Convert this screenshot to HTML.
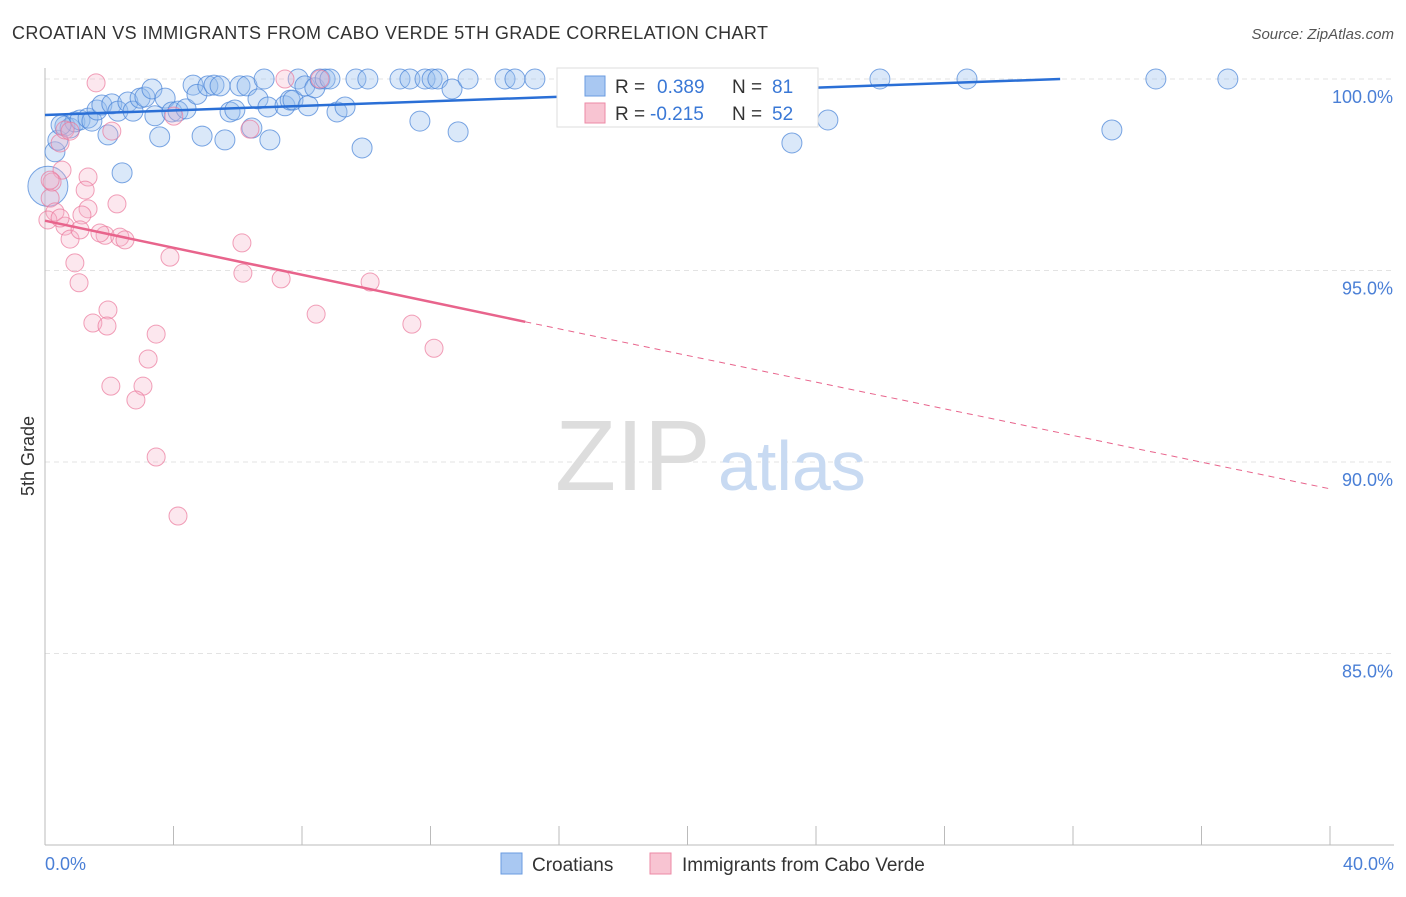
<!DOCTYPE html>
<html><head><meta charset="utf-8"><style>
body{margin:0;background:#fff;font-family:"Liberation Sans",sans-serif;}
svg text{font-family:"Liberation Sans",sans-serif;}
</style></head><body>
<svg width="1406" height="892">
<text x="12" y="39" font-size="18" fill="#333" textLength="756">CROATIAN VS IMMIGRANTS FROM CABO VERDE 5TH GRADE CORRELATION CHART</text>
<text x="1394" y="39" font-size="15" fill="#555" text-anchor="end" font-style="italic">Source: ZipAtlas.com</text>
<g id="grid"></g>
<line x1="45" y1="68" x2="45" y2="845" stroke="#bbb"/>
<line x1="45" y1="845" x2="1394" y2="845" stroke="#bbb"/>
<text x="34" y="456" font-size="18" fill="#333" transform="rotate(-90 34 456)" text-anchor="middle">5th Grade</text>
<text x="45" y="870" font-size="18" fill="#4a7fd6">0.0%</text>
<text x="1394" y="870" font-size="18" fill="#4a7fd6" text-anchor="end">40.0%</text>
<text x="555" y="490" font-size="100" fill="#ddd" font-family="Liberation Serif">ZIP</text>
<text x="718" y="490" font-size="70" fill="#c8daf2">atlas</text>
<g id="pts"></g>
<g id="lines"></g>
<g>
<rect x="557" y="68" width="261" height="59" fill="#fff" stroke="#ddd"/>
<rect x="585" y="76" width="20" height="20" fill="#a9c8f2" stroke="#6a9be0"/>
<text x="615" y="93" font-size="19" fill="#333">R =</text>
<text x="657" y="93" font-size="19" fill="#3a78d6">0.389</text>
<text x="732" y="93" font-size="19" fill="#333">N =</text>
<text x="772" y="93" font-size="19" fill="#3a78d6">81</text>
<rect x="585" y="103" width="20" height="20" fill="#f8c4d2" stroke="#ec8aa6"/>
<text x="615" y="120" font-size="19" fill="#333">R =</text>
<text x="650" y="120" font-size="19" fill="#3a78d6">-0.215</text>
<text x="732" y="120" font-size="19" fill="#333">N =</text>
<text x="772" y="120" font-size="19" fill="#3a78d6">52</text>
</g>
<g>
<rect x="501" y="853" width="21" height="21" fill="#a9c8f2" stroke="#6a9be0"/>
<text x="532" y="871" font-size="19" fill="#333">Croatians</text>
<rect x="650" y="853" width="21" height="21" fill="#f8c4d2" stroke="#ec8aa6"/>
<text x="682" y="871" font-size="19" fill="#333">Immigrants from Cabo Verde</text>
</g>
</svg>
<script>
const yTicks=[100,95,90,85];
const xTickCount=10;
const blueX=[0.31,0.4,0.62,0.78,0.93,1.09,1.34,1.46,1.62,1.77,1.96,2.08,2.27,2.4,2.58,2.74,2.96,3.11,3.33,3.42,3.57,3.74,3.95,4.14,4.39,4.61,4.73,4.89,5.07,5.26,5.45,5.6,5.76,5.91,6.07,6.29,6.44,6.63,6.82,6.94,7.0,7.47,7.63,7.72,7.88,8.09,8.19,8.4,8.56,8.72,8.87,9.09,9.34,9.68,9.87,10.05,11.05,11.36,11.67,11.83,12.05,12.23,12.67,12.86,13.17,14.32,14.63,15.25,16.65,16.96,17.21,17.96,23.25,24.37,25.99,28.7,33.21,34.58,36.82,0.09,0.5];
const blueY=[98.1,98.4,98.77,98.72,98.88,98.93,98.98,98.9,99.19,99.32,98.54,99.35,99.16,97.55,99.4,99.16,99.5,99.53,99.74,99.04,98.49,99.5,99.14,99.16,99.22,99.84,99.6,98.51,99.82,99.84,99.82,98.41,99.14,99.19,99.82,99.82,98.72,99.48,100,99.27,98.41,99.3,99.45,99.45,100,99.82,99.3,99.77,100,100,100,99.14,99.27,100,98.2,100,100,100,98.9,100,100,100,99.74,98.62,100,100,100,100,100,100,100,100,98.33,98.93,100,100,98.67,100,100,97.2,98.8];
const pinkX=[1.59,7.47,8.56,0.47,0.62,2.08,4.01,6.38,0.53,1.34,1.25,2.24,0.16,0.31,0.09,0.62,0.47,1.34,1.87,2.33,2.49,0.78,1.15,1.09,3.89,6.13,6.16,7.35,8.44,10.12,0.93,1.06,1.96,1.49,1.93,3.46,3.21,11.42,12.11,2.05,3.05,2.83,3.46,4.14,0.22,0.78,0.16,1.71];
const pinkY=[99.9,100,100,98.33,98.67,98.64,99.03,98.69,97.62,97.44,97.1,96.74,96.89,96.53,96.32,96.16,96.37,96.61,95.92,95.87,95.8,95.82,96.45,96.06,95.35,95.72,94.93,94.78,93.86,94.7,95.2,94.68,93.97,93.63,93.55,93.34,92.69,93.6,92.97,91.98,91.98,91.62,90.13,88.59,97.31,98.64,97.36,95.98];
const blueTrend=[[0,99.06],[31.6,100]];
const pinkSolid=[[0,96.3],[14.95,93.66]];
const pinkDash=[[14.95,93.66],[40,89.3]];
const X=v=>45+v/40*1285, Y=v=>79+(100-v)*38.3;
const NS='http://www.w3.org/2000/svg';
function mk(t,a,p){const e=document.createElementNS(NS,t);for(const k in a)e.setAttribute(k,a[k]);p.appendChild(e);return e;}
const grid=document.getElementById('grid');
yTicks.forEach(v=>{
 const l=mk('line',{x1:45,x2:1394,y1:Y(v),y2:Y(v),stroke:'#e3e3e3','stroke-dasharray':'5,4'},grid);
 
 
 const t=mk('text',{x:1393,y:Y(v)+24,'font-size':18,fill:'#4a7fd6','text-anchor':'end'},grid);
 t.textContent=v.toFixed(1)+'%';
 
 
});
for(let i=1;i<=xTickCount;i++){
 const l=mk('line',{x1:X(i*4),x2:X(i*4),y1:826,y2:845,stroke:'#bbb'},grid);
 
 
}
const pts=document.getElementById('pts');
blueX.forEach((x,i)=>{
 const r=i===79?20:10;
 const c=mk('circle',{cx:X(x),cy:Y(blueY[i]),r:r,fill:'rgba(150,188,238,0.35)',stroke:'rgba(70,130,215,0.7)'},pts);
 
 
});
pinkX.forEach((x,i)=>{
 const c=mk('circle',{cx:X(x),cy:Y(pinkY[i]),r:9,fill:'rgba(245,175,198,0.3)',stroke:'rgba(235,120,155,0.7)'},pts);
 
 
});
const ln=document.getElementById('lines');
const b=mk('line',{x1:X(blueTrend[0][0]),y1:Y(blueTrend[0][1]),x2:X(blueTrend[1][0]),y2:Y(blueTrend[1][1]),stroke:'#2a6fd6','stroke-width':2.5},ln);


const p=mk('line',{x1:X(pinkSolid[0][0]),y1:Y(pinkSolid[0][1]),x2:X(pinkSolid[1][0]),y2:Y(pinkSolid[1][1]),stroke:'#e8648c','stroke-width':2.5},ln);


const d=mk('line',{x1:X(pinkDash[0][0]),y1:Y(pinkDash[0][1]),x2:X(pinkDash[1][0]),y2:Y(pinkDash[1][1]),stroke:'#e8648c','stroke-width':1,'stroke-dasharray':'6,5'},ln);


</script>
</body></html>
